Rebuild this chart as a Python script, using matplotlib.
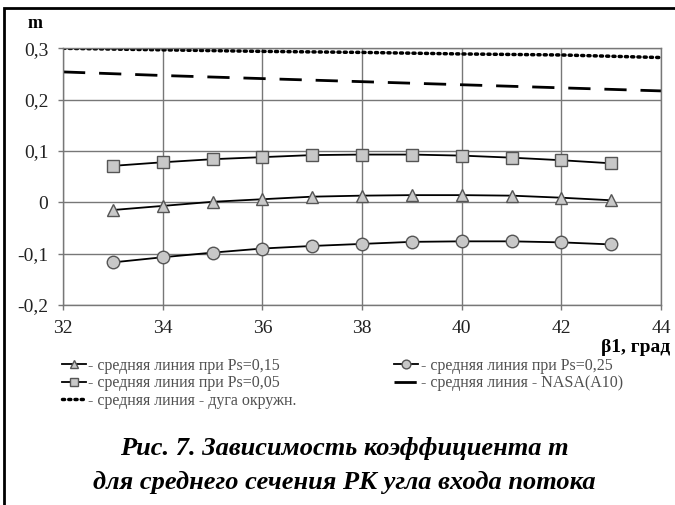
import matplotlib
matplotlib.use('Agg')
import matplotlib.pyplot as plt
from matplotlib.patches import Rectangle

plt.rcParams['font.family'] = ['Liberation Serif', 'DejaVu Serif']

# данные
beta = [33, 34, 35, 36, 37, 38, 39, 40, 41, 42, 43]
m_ps015 = [-0.015, -0.007, 0.001, 0.006, 0.011, 0.013, 0.014, 0.014, 0.013, 0.009, 0.004]
m_ps025 = [-0.117, -0.107, -0.098, -0.090, -0.085, -0.081, -0.077, -0.076, -0.076, -0.078, -0.082]
m_ps005 = [0.071, 0.078, 0.084, 0.088, 0.092, 0.093, 0.093, 0.091, 0.087, 0.082, 0.076]

beta_ref = [32, 34, 36, 38, 40, 42, 44]
m_nasa = [0.254, 0.247, 0.241, 0.235, 0.229, 0.223, 0.217]
m_arc = [0.300, 0.297, 0.294, 0.292, 0.289, 0.287, 0.282]

labels = ['- средняя линия при Ps=0,15',
          '- средняя линия при Ps=0,05',
          '- средняя линия - дуга окружн.',
          '- средняя линия при Ps=0,25',
          '- средняя линия - NASA(A10)']

fig = plt.figure(figsize=(6.75, 5.05), dpi=100)
ax = fig.add_axes([63/675, 1-305/505, (661-63)/675, (305-48.3)/505])

mk = dict(color='black', lw=1.3, markerfacecolor='#c8c8c8', markeredgecolor='#555555',
          markeredgewidth=1.0)
l_tri, = ax.plot(beta, m_ps015, marker='^', markersize=9, **mk)
l_circ, = ax.plot(beta, m_ps025, marker='o', markersize=9, **mk)
l_sq, = ax.plot(beta, m_ps005, marker='s', markersize=8.5, **mk)
l_nasa, = ax.plot(beta_ref, m_nasa, color='black', lw=2, dashes=(8, 5))
l_arc, = ax.plot(beta_ref, m_arc, color='black', lw=2.5, linestyle=(0, (0.6, 1.2)),
                 dash_capstyle='round')

ax.set_xlim(32, 44)
ax.set_ylim(-0.2, 0.3)
ax.set_xticks(range(32, 45, 2))
ax.set_yticks([-0.2, -0.1, 0, 0.1, 0.2, 0.3])
ax.set_yticklabels(['-0,2', '-0,1', '0', '0,1', '0,2', '0,3'])
ax.grid(True, color='#777777', lw=1.0)
ax.set_axisbelow(True)
for s in ax.spines.values():
    s.set_color('#777777')
    s.set_linewidth(1.0)
ax.tick_params(axis='both', labelsize=14, color='#777777', length=3.5, width=1.0,
               labelcolor='#222222')
ax.tick_params(axis='x', pad=7)
ax.tick_params(axis='y', pad=7)

fig.text(35/675, 1-24/505, 'm', fontsize=13, fontweight='bold', ha='center', va='center')
fig.text(670/675, 1-348/505, 'β1, град', fontsize=14, fontweight='bold', ha='right', va='center')

leg = fig.legend([l_tri, l_sq, l_arc, l_circ, l_nasa], labels, loc='upper left',
                 bbox_to_anchor=(62/675, 1-358/505), ncol=2, frameon=False,
                 fontsize=11.5, handlelength=1.5, handletextpad=0.15, labelspacing=0.08,
                 columnspacing=6.1, markerscale=0.7, borderpad=0, borderaxespad=0)
for t in leg.get_texts():
    t.set_color('#505050')

fig.text(344/675, 1-449/505, 'Рис. 7. Зависимость коэффициента m', fontsize=19,
         fontweight='bold', fontstyle='italic', ha='center', va='center')
fig.text(344/675, 1-482/505, 'для среднего сечения РК угла входа потока', fontsize=19,
         fontweight='bold', fontstyle='italic', ha='center', va='center')

# рамка
fig.add_artist(Rectangle((4/675, -0.1), 1.2, 1-8/505+0.1, transform=fig.transFigure,
                         fill=False, edgecolor='black', lw=2))

fig.savefig('out.png', dpi=100)
